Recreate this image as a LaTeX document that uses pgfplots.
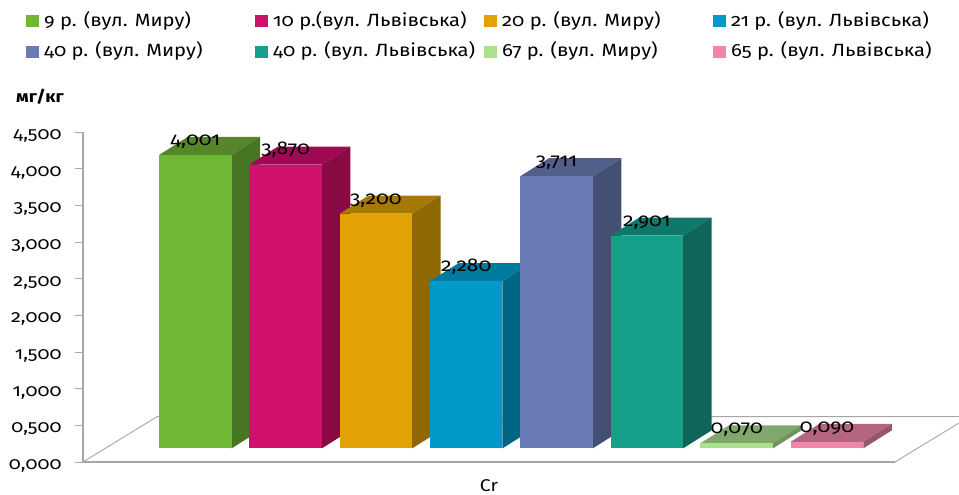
\documentclass[border=0pt]{standalone}
\usepackage{fontspec}
\setmainfont[Numbers=OldStyle,FakeStretch=1.14]{Fira Sans}
\usepackage{pgfplots}
\pgfplotsset{compat=1.18}

\definecolor{gridgray}{HTML}{A6A6A6}
\definecolor{c1f}{HTML}{6FB833}\definecolor{c1s}{HTML}{487523}\definecolor{c1t}{HTML}{55862A}
\definecolor{c2f}{HTML}{D0106A}\definecolor{c2s}{HTML}{880A45}\definecolor{c2t}{HTML}{A00A55}
\definecolor{c3f}{HTML}{E2A206}\definecolor{c3s}{HTML}{8E6802}\definecolor{c3t}{HTML}{A87804}
\definecolor{c4f}{HTML}{0099C8}\definecolor{c4s}{HTML}{006585}\definecolor{c4t}{HTML}{007BA0}
\definecolor{c5f}{HTML}{6A7AB4}\definecolor{c5s}{HTML}{435074}\definecolor{c5t}{HTML}{525F8A}
\definecolor{c6f}{HTML}{16A08A}\definecolor{c6s}{HTML}{0E6558}\definecolor{c6t}{HTML}{10786A}
\definecolor{c7f}{HTML}{ACE08E}\definecolor{c7s}{HTML}{6E9459}\definecolor{c7t}{HTML}{7FA86A}
\definecolor{c8f}{HTML}{F285AA}\definecolor{c8s}{HTML}{96556B}\definecolor{c8t}{HTML}{B5667F}

% one bar with its top and side faces: centre, value, colour prefix, legend text
\newcommand{\solidbar}[4]{
  \pgfmathsetmacro\xl{#1-36.25}
  \pgfmathsetmacro\xr{#1+36.25}
  \pgfmathsetmacro\xbl{\xl+28.5}
  \pgfmathsetmacro\xbr{\xr+28.5}
  \pgfmathsetmacro\vb{#2+0.2456}
  \addplot[forget plot,draw=none,fill=#3t,yshift=13.6pt] coordinates {(\xl,#2) (\xbl,\vb) (\xbr,\vb) (\xr,#2) (\xl,#2)};
  \addplot[forget plot,draw=none,fill=#3s,yshift=13.6pt] coordinates {(\xr,0) (\xbr,0.2456) (\xbr,\vb) (\xr,#2) (\xr,0)};
  \addplot[ybar,bar width=72.5pt,bar shift=0pt,draw=none,fill=#3f,yshift=13.6pt,
    nodes near coords,
    every node near coord/.append style={text=black,font=\fontsize{18.5}{18}\selectfont,yshift=3pt,
      /pgf/number format/.cd,fixed,fixed zerofill,precision=3,use comma,assume math mode=true}]
    coordinates {(#1,#2)};
  \addlegendentry{\hspace{3pt}\raisebox{8pt}[0pt][0pt]{\makebox[209pt][l]{#4}}}
}

\begin{document}
\begin{tikzpicture}
\begin{axis}[
  scale only axis,width=812pt,height=330pt,
  xmin=83,xmax=895,ymin=0,ymax=4.5,
  clip=false,
  axis x line=bottom,axis y line=left,
  axis line style={gridgray,line width=1.1pt,-},
  xtick={489},xticklabels={Cr},
  ytick={0,0.5,1,1.5,2,2.5,3,3.5,4,4.5},
  tick align=outside,major tick length=8pt,
  ytick style={gridgray,line width=0.8pt},
  xtick style={draw=none},
  yticklabel style={font=\fontsize{17.3}{17}\selectfont,xshift=-10pt,yshift=-4pt,
    /pgf/number format/.cd,fixed,fixed zerofill,precision=3,use comma,assume math mode=true},
  xticklabel style={font=\fontsize{17}{17}\selectfont,yshift=-6pt},
  legend columns=4,
  legend cell align=left,
  legend style={at={(-0.0702,1.354)},anchor=north west,draw=none,fill=none,
    font=\fontsize{17.7}{17}\selectfont,row sep=8pt,inner sep=0pt},
  legend image code/.code={\fill[#1] (0pt,-6pt) rectangle (13pt,6pt);},
]
  % floor outline
  \addplot[forget plot,gridgray,line width=0.9pt] coordinates {(83,0) (157,0.618) (959,0.618)};
  \addplot[forget plot,gridgray,line width=0.9pt] coordinates {(895,0) (959,0.532)};

  \solidbar{195.3}{4.001}{c1}{9 р. (вул. Миру)}
  \solidbar{285.6}{3.870}{c2}{10 р.(вул. Львівська)}
  \solidbar{375.9}{3.200}{c3}{20 р. (вул. Миру)}
  \solidbar{466.2}{2.280}{c4}{21 р. (вул. Львівська)}
  \solidbar{556.5}{3.711}{c5}{40 р. (вул. Миру)}
  \solidbar{646.8}{2.901}{c6}{40 р. (вул. Львівська)}
  \solidbar{736.7}{0.070}{c7}{67 р. (вул. Миру)}
  \solidbar{827.0}{0.090}{c8}{65 р. (вул. Львівська)}

  \node[font=\bfseries\fontsize{16.5}{16}\selectfont] at (axis cs:40,4.98) {мг/кг};
\end{axis}
\pgfresetboundingbox
\path[use as bounding box] (-83pt,-33pt) rectangle (876pt,462pt);
\end{tikzpicture}
\end{document}
